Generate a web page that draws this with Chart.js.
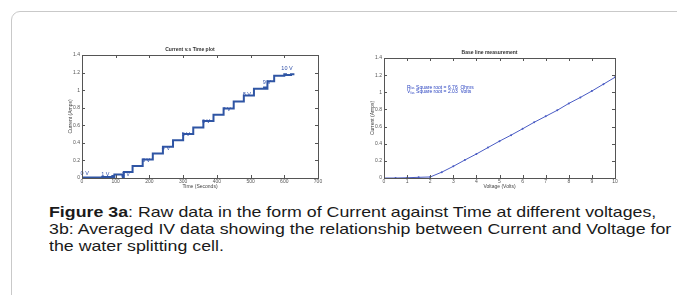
<!DOCTYPE html>
<html lang="en">
<head>
  <meta charset="UTF-8">
  <title>Figure 3a / 3b</title>
  <script src="https://cdn.jsdelivr.net/npm/chart.js"></script>
  <style>
    body { margin: 0; background: #fff; width: 677px; height: 295px; overflow: hidden; position: relative; font-family: "Liberation Sans", Arial, sans-serif; }
    #frame { position: absolute; left: 11px; top: 11px; width: 720px; height: 320px; border: 1.5px solid #c9c9c9; border-radius: 9px; }
    .box { position: absolute; }
    #box1 { left: 62px; top: 41px; width: 268px; height: 149px; }
    #box2 { left: 364px; top: 44px; width: 263px; height: 146px; }
    #caption { position: absolute; left: 49px; top: 203px; width: 540px; font-size: 15px; line-height: 17px; color: #1a1a1a;
               transform: scaleX(1.185); transform-origin: 0 0; white-space: nowrap; }
  </style>
</head>
<body>
<div id="frame"></div>
<div class="box" id="box1"><canvas id="timeChart"></canvas></div>
<div class="box" id="box2"><canvas id="ivChart"></canvas></div>
<div id="caption"><b>Figure 3a</b>: Raw data in the form of Current against Time at different voltages,<br>3b: Averaged IV data showing the relationship between Current and Voltage for<br>the water splitting cell.</div>

<script>
  // Fig 3a: current vs time (step trace)
  const timeSec = [0, 60, 90, 93, 96, 120, 121, 124, 150, 180, 210, 240, 270, 300, 330, 360, 390, 420, 450, 480, 510, 540, 545, 550, 570, 600, 605, 620, 625, 630];
  const currentA = [0.004, 0.005, 0.012, 0.022, 0.012, 0.04, 0.025, 0.012, 0.068, 0.136, 0.21, 0.28, 0.355, 0.43, 0.50, 0.574, 0.65, 0.72, 0.79, 0.87, 0.94, 1.015, 1.03, 1.015, 1.10, 1.165, 1.18, 1.172, 1.18, 1.18];

  const voltLabels = ['0 V', '1 V', '2 V', '3 V', '4 V', '5 V', '6 V', '7 V', '8 V', '9 V', '10 V'];
  const voltLabelX = [8, 69, 130, 190, 249, 308, 368, 429, 489, 548, 608];
  const voltLabelY = [0.05, 0.045, 0.035, 0.205, 0.34, 0.49, 0.645, 0.78, 0.95, 1.09, 1.25];

  // Fig 3b: averaged IV curve
  const voltage = [0, 0.5, 1, 1.5, 2, 2.5, 3, 3.5, 4, 4.5, 5, 5.5, 6, 6.5, 7, 7.5, 8, 8.5, 9, 9.5, 10];
  const ivCurrent = [0, 0, 0.003, 0.008, 0.012, 0.068, 0.136, 0.21, 0.28, 0.355, 0.43, 0.50, 0.574, 0.65, 0.72, 0.79, 0.87, 0.94, 1.015, 1.095, 1.175];

  const noteLines = [
    { main: 'R', sub: 'fas', text: 'Square root = 6.76  Ohms' },
    { main: 'V', sub: 'fas', text: 'Square root = 2.03  Volts' }
  ];

  const tinyFont = { family: 'Liberation Sans, Arial, sans-serif', size: 5 };
  const tickColor = '#555';

  // MATLAB style box with inward ticks on all four sides
  const boxTicks = {
    id: 'boxTicks',
    afterDraw(chart) {
      const { ctx, chartArea: a, scales } = chart;
      ctx.save();
      ctx.strokeStyle = '#555';
      ctx.lineWidth = 1;
      ctx.strokeRect(a.left + 0.5, a.top + 0.5, a.right - a.left, a.bottom - a.top);
      ctx.beginPath();
      scales.x.ticks.forEach(t => {
        const px = Math.round(scales.x.getPixelForValue(t.value)) + 0.5;
        ctx.moveTo(px, a.bottom); ctx.lineTo(px, a.bottom - 3);
        ctx.moveTo(px, a.top); ctx.lineTo(px, a.top + 3);
      });
      scales.y.ticks.forEach(t => {
        const py = Math.round(scales.y.getPixelForValue(t.value)) + 0.5;
        ctx.moveTo(a.left, py); ctx.lineTo(a.left + 3, py);
        ctx.moveTo(a.right, py); ctx.lineTo(a.right - 3, py);
      });
      ctx.stroke();
      ctx.restore();
    }
  };

  const voltText = {
    id: 'voltText',
    afterDatasetsDraw(chart) {
      const { ctx, scales } = chart;
      ctx.save();
      ctx.fillStyle = '#2f4fa8';
      ctx.font = '5.5px "Liberation Sans", Arial, sans-serif';
      ctx.textAlign = 'center';
      ctx.textBaseline = 'middle';
      voltLabels.forEach((s, i) => {
        ctx.fillText(s, scales.x.getPixelForValue(voltLabelX[i]), scales.y.getPixelForValue(voltLabelY[i]));
      });
      ctx.restore();
    }
  };

  const noteText = {
    id: 'noteText',
    afterDatasetsDraw(chart) {
      const { ctx, scales } = chart;
      ctx.save();
      ctx.fillStyle = '#2b44c0';
      ctx.textBaseline = 'middle';
      const x0 = scales.x.getPixelForValue(1.0);
      noteLines.forEach((n, i) => {
        const y0 = scales.y.getPixelForValue(1.06 - i * 0.05);
        ctx.font = '5px "Liberation Sans", Arial, sans-serif';
        ctx.fillText(n.main, x0, y0);
        ctx.font = '3px "Liberation Sans", Arial, sans-serif';
        ctx.fillText(n.sub, x0 + 3.5, y0 + 1.5);
        ctx.font = '5px "Liberation Sans", Arial, sans-serif';
        ctx.fillText(n.text, x0 + 9, y0);
      });
      ctx.restore();
    }
  };

  const fmt = v => String(Math.round(v * 10) / 10);

  function axes(xMax, xStep, xTitle) {
    return {
      x: {
        type: 'linear', min: 0, max: xMax,
        grid: { display: false, drawTicks: false }, border: { display: false },
        ticks: { stepSize: xStep, font: tinyFont, color: tickColor, padding: 1, maxRotation: 0, callback: fmt },
        title: { display: true, text: xTitle, font: tinyFont, color: '#444', padding: 0 },
        afterFit: s => { s.height = 12; }
      },
      y: {
        type: 'linear', min: 0, max: 1.4,
        grid: { display: false, drawTicks: false }, border: { display: false },
        ticks: { stepSize: 0.2, font: tinyFont, color: tickColor, padding: 2, callback: fmt },
        title: { display: true, text: 'Current (Amps)', font: tinyFont, color: '#444', padding: { top: 6, bottom: 0 } },
        afterFit: s => { s.width = 20; }
      }
    };
  }

  new Chart(document.getElementById('timeChart'), {
    type: 'line',
    data: {
      datasets: [{
        data: timeSec.map((t, i) => ({ x: t, y: currentA[i] })),
        borderColor: '#2f55a4', borderWidth: 2, pointRadius: 0, stepped: 'after', fill: false
      }]
    },
    options: {
      responsive: true, maintainAspectRatio: false, animation: false,
      layout: { padding: { right: 12, left: 0, bottom: 0 } },
      plugins: {
        legend: { display: false }, tooltip: { enabled: false },
        title: { display: true, text: 'Current v.s Time plot', font: tinyFont, color: '#333', padding: { top: 6, bottom: 2 } }
      },
      scales: axes(700, 100, 'Time (Seconds)')
    },
    plugins: [boxTicks, voltText]
  });

  new Chart(document.getElementById('ivChart'), {
    type: 'line',
    data: {
      datasets: [{
        data: voltage.map((v, i) => ({ x: v, y: ivCurrent[i] })),
        borderColor: '#4a5cc4', borderWidth: 1, pointRadius: 1, pointBackgroundColor: '#4a5cc4',
        pointBorderWidth: 0, tension: 0, fill: false
      }]
    },
    options: {
      responsive: true, maintainAspectRatio: false, animation: false,
      layout: { padding: { right: 12, left: 0, bottom: 0 } },
      plugins: {
        legend: { display: false }, tooltip: { enabled: false },
        title: { display: true, text: 'Base line measurement', font: tinyFont, color: '#333', padding: { top: 6, bottom: 2 } }
      },
      scales: axes(10, 1, 'Voltage (Volts)')
    },
    plugins: [boxTicks, noteText]
  });
</script>
</body>
</html>
